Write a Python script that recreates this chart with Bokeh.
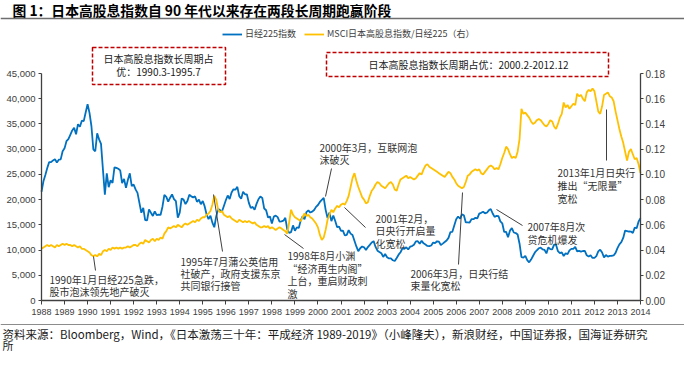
import numpy as np
from bokeh.plotting import figure
from bokeh.models import (Range1d, LinearAxis, FixedTicker, NumeralTickFormatter,
                          Label, Arrow, BoxAnnotation, Legend, LegendItem)
from bokeh.embed import file_html
from bokeh.resources import INLINE

# ---------------- data (month-end values, first value = end of 1987) ----------------
start_year = 1988
nikkei_start = 21564
nikkei_1988 = [23622, 24901, 26260, 27434, 27417, 27769, 28025, 27366, 27924, 27983, 29579, 30159]
nikkei_1989 = [31581, 31986, 32839, 33713, 34267, 32949, 34954, 34431, 35637, 35549, 37269, 38916]
nikkei_1990 = [37189, 34592, 29980, 29585, 33131, 31940, 31036, 25978, 20984, 25194, 22455, 23849]
nikkei_1991 = [23293, 26409, 26292, 26111, 25790, 23291, 24121, 22336, 23916, 25222, 22687, 22984]
nikkei_1992 = [22023, 21339, 19346, 17391, 18348, 15952, 15910, 18061, 17399, 16767, 17684, 16925]
nikkei_1993 = [17024, 16953, 18591, 20919, 20552, 19590, 20380, 21028, 20106, 19703, 16408, 17417]
nikkei_1994 = [20229, 19997, 19112, 19725, 20974, 20644, 20449, 20629, 19564, 19990, 19076, 19723]
nikkei_1995 = [18650, 17053, 16140, 16807, 15437, 14517, 16678, 18117, 17913, 17655, 18744, 19868]
nikkei_1996 = [20813, 20125, 21407, 22041, 21956, 22531, 20693, 20167, 21556, 21062, 21020, 19361]
nikkei_1997 = [18330, 18557, 18003, 19151, 20069, 20605, 20331, 18229, 17888, 16459, 16636, 15259]
nikkei_1998 = [16628, 16832, 16527, 15641, 15671, 15830, 16379, 14108, 13406, 13565, 14883, 13842]
nikkei_1999 = [14499, 14368, 15837, 16702, 16112, 17530, 17862, 17437, 17605, 17942, 18558, 18934]
nikkei_2000 = [19540, 19960, 20337, 17974, 16332, 17411, 15727, 16861, 15747, 14539, 14648, 13786]
nikkei_2001 = [13844, 12884, 12999, 13934, 13262, 12969, 11861, 10714, 9775, 10367, 10697, 10543]
nikkei_2002 = [9998, 10588, 11025, 11493, 11764, 10622, 9878, 9619, 9383, 8640, 9216, 8579]
nikkei_2003 = [8340, 8363, 7973, 7831, 8425, 9083, 9563, 10344, 10219, 10560, 10101, 10677]
nikkei_2004 = [10784, 11042, 11715, 11762, 11236, 11859, 11326, 11082, 10824, 10771, 10899, 11489]
nikkei_2005 = [11388, 11741, 11669, 11009, 11277, 11584, 11900, 12414, 13574, 13607, 14872, 16111]
nikkei_2006 = [16650, 16205, 17060, 16906, 15467, 15505, 15457, 16141, 16128, 16399, 16274, 17226]
nikkei_2007 = [17383, 17604, 17288, 17400, 17876, 18138, 17249, 16569, 16786, 16738, 15681, 15308]
nikkei_2008 = [13592, 13603, 12526, 13850, 14339, 13481, 13377, 13073, 11260, 8577, 8512, 8860]
nikkei_2009 = [7994, 7568, 8110, 8828, 9523, 9958, 10357, 10493, 10133, 10035, 9346, 10546]
nikkei_2010 = [10198, 10126, 11090, 11057, 9769, 9383, 9537, 8824, 9369, 9202, 9937, 10229]
nikkei_2011 = [10238, 10624, 9755, 9850, 9694, 9816, 9833, 8955, 8700, 8988, 8435, 8455]
nikkei_2012 = [8803, 9723, 10084, 9521, 8543, 9007, 8695, 8840, 8870, 8928, 9446, 10395]
nikkei_2013 = [11139, 11559, 12398, 13861, 13775, 13677, 13668, 13389, 14456, 14328, 15662, 16291]

ratio_start = 0.041
ratio_1988 = [0.042, 0.043, 0.044, 0.043, 0.044, 0.043, 0.042, 0.044, 0.043, 0.044, 0.045, 0.044]
ratio_1989 = [0.045, 0.044, 0.044, 0.043, 0.044, 0.043, 0.042, 0.043, 0.041, 0.041, 0.040, 0.039]
ratio_1990 = [0.038, 0.036, 0.035, 0.036, 0.035, 0.037, 0.036, 0.039, 0.040, 0.039, 0.041, 0.040]
ratio_1991 = [0.042, 0.041, 0.042, 0.041, 0.042, 0.041, 0.042, 0.042, 0.043, 0.042, 0.043, 0.044]
ratio_1992 = [0.044, 0.043, 0.045, 0.046, 0.045, 0.048, 0.047, 0.046, 0.048, 0.049, 0.047, 0.049]
ratio_1993 = [0.048, 0.050, 0.049, 0.053, 0.055, 0.058, 0.057, 0.058, 0.059, 0.058, 0.060, 0.059]
ratio_1994 = [0.058, 0.060, 0.061, 0.060, 0.061, 0.062, 0.063, 0.062, 0.064, 0.063, 0.065, 0.066]
ratio_1995 = [0.066, 0.068, 0.069, 0.071, 0.076, 0.083, 0.080, 0.072, 0.070, 0.071, 0.068, 0.067]
ratio_1996 = [0.066, 0.067, 0.065, 0.064, 0.063, 0.062, 0.064, 0.063, 0.062, 0.063, 0.062, 0.063]
ratio_1997 = [0.062, 0.061, 0.062, 0.060, 0.059, 0.058, 0.058, 0.059, 0.058, 0.059, 0.057, 0.058]
ratio_1998 = [0.057, 0.056, 0.057, 0.058, 0.057, 0.056, 0.055, 0.053, 0.062, 0.072, 0.068, 0.066]
ratio_1999 = [0.065, 0.064, 0.063, 0.066, 0.069, 0.067, 0.068, 0.066, 0.065, 0.063, 0.061, 0.058]
ratio_2000 = [0.052, 0.048, 0.050, 0.056, 0.064, 0.068, 0.072, 0.070, 0.073, 0.075, 0.074, 0.076]
ratio_2001 = [0.077, 0.076, 0.079, 0.083, 0.090, 0.097, 0.101, 0.095, 0.090, 0.086, 0.082, 0.080]
ratio_2002 = [0.077, 0.078, 0.083, 0.087, 0.089, 0.092, 0.094, 0.093, 0.091, 0.090, 0.089, 0.091]
ratio_2003 = [0.093, 0.094, 0.092, 0.088, 0.087, 0.092, 0.096, 0.097, 0.098, 0.099, 0.097, 0.098]
ratio_2004 = [0.097, 0.096, 0.097, 0.099, 0.101, 0.100, 0.104, 0.107, 0.108, 0.106, 0.105, 0.104]
ratio_2005 = [0.103, 0.102, 0.101, 0.100, 0.099, 0.098, 0.100, 0.102, 0.101, 0.098, 0.096, 0.093]
ratio_2006 = [0.091, 0.090, 0.089, 0.090, 0.094, 0.099, 0.100, 0.102, 0.103, 0.104, 0.103, 0.104]
ratio_2007 = [0.101, 0.100, 0.102, 0.104, 0.106, 0.107, 0.106, 0.104, 0.105, 0.104, 0.108, 0.113]
ratio_2008 = [0.117, 0.122, 0.120, 0.116, 0.113, 0.114, 0.113, 0.118, 0.128, 0.152, 0.148, 0.149]
ratio_2009 = [0.147, 0.145, 0.142, 0.140, 0.141, 0.143, 0.144, 0.143, 0.141, 0.139, 0.138, 0.140]
ratio_2010 = [0.143, 0.142, 0.138, 0.136, 0.140, 0.145, 0.148, 0.157, 0.153, 0.155, 0.152, 0.154]
ratio_2011 = [0.156, 0.155, 0.164, 0.162, 0.163, 0.160, 0.158, 0.165, 0.167, 0.166, 0.168, 0.166]
ratio_2012 = [0.158, 0.150, 0.148, 0.154, 0.163, 0.164, 0.165, 0.162, 0.161, 0.158, 0.150, 0.143]
ratio_2013 = [0.136, 0.130, 0.125, 0.118, 0.111, 0.118, 0.120, 0.116, 0.112, 0.113, 0.108, 0.101]

x_ticks = list(range(1988, 2015))
y_ticks = [0, 5000, 10000, 15000, 20000, 25000, 30000, 35000, 40000, 45000]
y2_ticks = [0.0, 0.02, 0.04, 0.06, 0.08, 0.10, 0.12, 0.14, 0.16, 0.18]

series_names = ["日经225指数", "MSCI日本高股息指数/日经225（右）"]

nikkei = [nikkei_start]
for yr in [nikkei_1988, nikkei_1989, nikkei_1990, nikkei_1991, nikkei_1992, nikkei_1993, nikkei_1994,
           nikkei_1995, nikkei_1996, nikkei_1997, nikkei_1998, nikkei_1999, nikkei_2000, nikkei_2001,
           nikkei_2002, nikkei_2003, nikkei_2004, nikkei_2005, nikkei_2006, nikkei_2007, nikkei_2008,
           nikkei_2009, nikkei_2010, nikkei_2011, nikkei_2012, nikkei_2013]:
    nikkei += yr
ratio = [ratio_start]
for yr in [ratio_1988, ratio_1989, ratio_1990, ratio_1991, ratio_1992, ratio_1993, ratio_1994,
           ratio_1995, ratio_1996, ratio_1997, ratio_1998, ratio_1999, ratio_2000, ratio_2001,
           ratio_2002, ratio_2003, ratio_2004, ratio_2005, ratio_2006, ratio_2007, ratio_2008,
           ratio_2009, ratio_2010, ratio_2011, ratio_2012, ratio_2013]:
    ratio += yr
t = start_year + np.arange(len(nikkei)) / 12.0

# ---------------- layout geometry (page pixels) ----------------
W, H = 684, 353            # figure size; page origin at (8, 8)
PX0, PY0 = 8, 8            # figure top-left on the page
AX_L, AX_R = 49, 648       # page x of 1988 / 2014
AX_B, AX_T = 308, 81       # page y of 0 / top of value axes
x0, x1 = x_ticks[0], x_ticks[-1]
y_top, y2_top = y_ticks[-1], y2_ticks[-1]
xs = (x1 - x0) / (AX_R - AX_L)
ys = y_top / (AX_B - AX_T)
y2s = y2_top / (AX_B - AX_T)
xr = Range1d(x0 - (AX_L - PX0) * xs, x1 + (PX0 + W - AX_R) * xs)
yr = Range1d(-(PY0 + H - AX_B) * ys, y_top + (AX_T - PY0) * ys)
y2r = Range1d(-(PY0 + H - AX_B) * y2s, y2_top + (AX_T - PY0) * y2s)

BLUE = "#0070C0"
GOLD = "#FFC000"
CJK = "Noto Sans CJK SC"
AX = "#404040"

p = figure(width=W, height=H, x_range=xr, y_range=yr,
           output_backend="svg", toolbar_location=None,
           x_axis_location=None, y_axis_location=None,
           min_border_left=0, min_border_right=0, min_border_top=0, min_border_bottom=0)
p.extra_y_ranges = {"ratio": y2r}
p.grid.visible = False
p.outline_line_color = None
p.background_fill_color = "white"
p.border_fill_color = "white"

r1 = p.line(t, nikkei, color=BLUE, line_width=1.8)
r2 = p.line(t, ratio, color=GOLD, line_width=1.8, y_range_name="ratio")


def style_axis(a, size, standoff, tin, tout):
    a.major_label_text_font = "Liberation Sans"
    a.major_label_text_font_size = size
    a.major_label_text_color = AX
    a.major_tick_in = tin
    a.major_tick_out = tout
    a.minor_tick_line_color = None
    a.axis_line_color = AX
    a.axis_line_width = 1.3
    a.major_tick_line_color = AX
    a.major_label_standoff = standoff


xa = LinearAxis(ticker=FixedTicker(ticks=x_ticks), fixed_location=0, bounds=(x0, x1))
style_axis(xa, "9px", 4, 0, 4)
p.add_layout(xa, "below")

ya = LinearAxis(ticker=FixedTicker(ticks=y_ticks), formatter=NumeralTickFormatter(format="0,0"),
                fixed_location=x0, bounds=(0, y_top))
style_axis(ya, "9.5px", 3, 0, 3)
p.add_layout(ya, "left")

ya2 = LinearAxis(y_range_name="ratio", ticker=FixedTicker(ticks=y2_ticks),
                 formatter=NumeralTickFormatter(format="0.00"), fixed_location=x1,
                 bounds=(0, y2_top))
style_axis(ya2, "10px", 2, 0, 3)
p.add_layout(ya2, "right")

# ---------------- annotations (page pixels -> frame screen units) ----------------
FL, FB = PX0, PY0 + H

legend = Legend(items=[LegendItem(label=series_names[0], renderers=[r1]),
                       LegendItem(label=series_names[1], renderers=[r2])],
                location=(230 - FL, FB - 48), orientation="horizontal",
                border_line_color=None, background_fill_alpha=0,
                padding=0, margin=0, spacing=8, glyph_width=20, glyph_height=12,
                label_height=12, label_standoff=3, label_text_font_size="9px",
                label_text_font=CJK, label_text_color="#404040")
p.add_layout(legend)


def lab(text, xr_, yr_, size="10px", color="#333333", font=CJK, align="left", style="normal"):
    p.add_layout(Label(x=xr_ - FL, y=FB - yr_, x_units="screen", y_units="screen", text=text,
                       text_font=font, text_font_size=size, text_color=color,
                       text_align=align, text_baseline="middle", text_font_style=style))


def seg(xa_, ya_, xb, yb, color="#404040", width=1.0):
    p.add_layout(Arrow(end=None, x_start=xa_ - FL, y_start=FB - ya_, x_end=xb - FL, y_end=FB - yb,
                       start_units="screen", end_units="screen",
                       line_color=color, line_width=width))


# title and rules
lab("图 1：日本高股息指数自 90 年代以来存在两段长周期跑赢阶段", 20, 17, size="13.8px",
    color="#000000", style="bold")
seg(8, 26, 692, 26, color="#6e6e6e", width=1.6)
seg(8, 332, 692, 332, color="#8c8c8c", width=1.0)
lab("资料来源：Bloomberg，Wind，《日本激荡三十年：平成经济 1989-2019》（小峰隆夫），新浪财经，中国证券报，国海证券研究",
    10, 341, size="11.5px", color="#1a1a1a")
lab("所", 10, 352.5, size="11px", color="#1a1a1a")

# dashed boxes
for (l, r, tp, bt) in [(100, 233, 55, 92), (334, 616, 60, 84)]:
    p.add_layout(BoxAnnotation(left=l - FL, right=r - FL, top=FB - tp, bottom=FB - bt,
                               left_units="screen", right_units="screen",
                               top_units="screen", bottom_units="screen",
                               fill_alpha=0, line_color="#C00000", line_dash="4 2",
                               line_width=1.5, line_alpha=1))
lab("日本高股息指数长周期占", 166, 66, align="center", color="#1a1a1a")
lab("优：1990.3-1995.7", 166, 79, align="center", color="#1a1a1a")
lab("日本高股息指数长周期占优：2000.2-2012.12", 476, 72, align="center", color="#1a1a1a")

# event annotations
lab("1990年1月日经225急跌，", 57, 287)
lab("股市泡沫领先地产破灭", 57, 299)
seg(101, 264, 103, 278)

lab("1995年7月蒲公英信用", 188, 269)
lab("社破产，政府支援东京", 188, 281)
lab("共同银行接管", 188, 293)
seg(221, 202, 230, 259)

lab("1998年8月小渊", 295, 263)
lab("“经济再生内阁”", 295, 275.5)
lab("上台，重启财政刺", 295, 288)
lab("激", 295, 300.5)
seg(292, 242, 311, 256)

lab("2000年3月，互联网泡", 327, 155)
lab("沫破灭", 327, 167)
seg(333, 204, 339, 176)

lab("2001年2月，", 383, 225.5)
lab("日央行开启量", 383, 238)
lab("化宽松", 383, 251)
seg(352, 215, 373, 235)

lab("2006年3月，日央行结", 418, 281)
lab("束量化宽松", 418, 293)
seg(470, 200, 466, 272)

lab("2007年8月次", 535, 234)
lab("贷危机爆发", 535, 247)
seg(504, 217, 530, 233)

lab("2013年1月日央行", 565, 180)
lab("推出“无限量”", 565, 193)
lab("宽松", 565, 206)
seg(614, 117, 614, 168)

open("out.html", "w").write(file_html(p, INLINE))
